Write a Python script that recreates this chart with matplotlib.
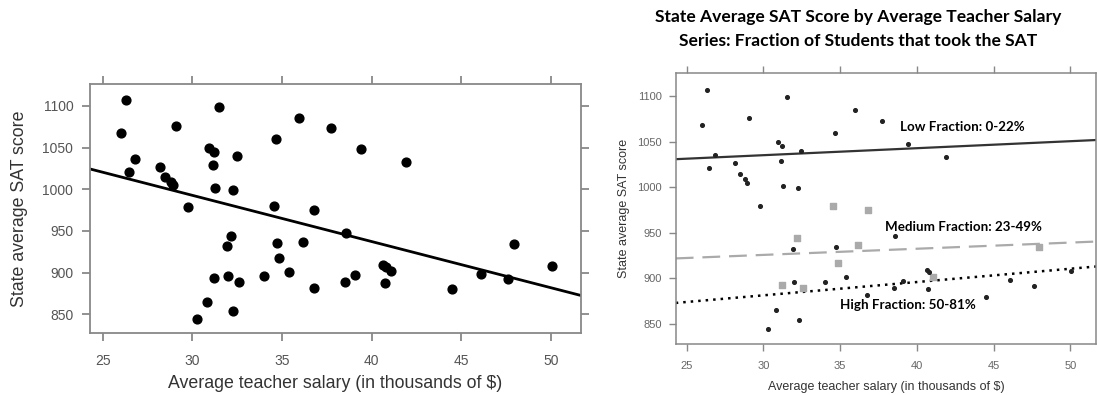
import matplotlib.pyplot as plt
import numpy as np

# SAT data by state: average teacher salary (k$), average SAT, % taking SAT
salary = [31.144, 47.951, 32.175, 28.934, 41.078, 34.571, 50.045, 39.076, 32.588, 32.291,
          38.518, 29.783, 39.431, 36.785, 31.511, 34.652, 32.257, 26.461, 31.972, 40.661,
          40.795, 41.895, 35.948, 26.818, 31.189, 28.785, 30.922, 34.836, 34.720, 46.087,
          28.493, 47.612, 30.793, 26.327, 36.802, 28.172, 38.555, 44.510, 40.729, 30.279,
          25.994, 32.477, 31.223, 29.082, 35.406, 33.987, 36.151, 31.944, 37.746, 31.285]
sat = [1029, 934, 944, 1005, 902, 980, 908, 897, 889, 854,
       889, 979, 1048, 882, 1099, 1060, 999, 1021, 896, 909,
       907, 1033, 1085, 1036, 1045, 1009, 1050, 917, 935, 898,
       1015, 892, 865, 1107, 975, 1027, 947, 880, 888, 844,
       1068, 1040, 893, 1076, 901, 896, 937, 932, 1073, 1001]
frac = [8, 47, 27, 6, 45, 29, 81, 68, 48, 65,
        57, 15, 13, 58, 5, 9, 11, 9, 68, 64,
        80, 11, 9, 4, 9, 21, 9, 30, 70, 70,
        11, 74, 60, 5, 23, 9, 51, 70, 70, 58,
        5, 12, 47, 4, 68, 65, 48, 17, 9, 10]

salary = np.array(salary)
sat = np.array(sat)
frac = np.array(frac)

groups = ["Low Fraction: 0-22%", "Medium Fraction: 23-49%", "High Fraction: 50-81%"]
low = frac <= 22
med = (frac >= 23) & (frac <= 49)
high = frac >= 50

xlim = (24.29, 51.68)
ylim = (827.6, 1126)
xx = np.array(xlim)

fig = plt.figure(figsize=(10.97, 3.95), dpi=100)
plt.rcParams['font.family'] = ['Liberation Sans', 'DejaVu Sans']

spine_col = '#888888'

# left panel
ax1 = fig.add_axes([0.0820, 0.157, 0.4476, 0.630])
ax1.scatter(salary, sat, s=40, color='black', zorder=3)
b, a = np.polyfit(salary, sat, 1)
ax1.plot(xx, a + b * xx, color='black', lw=2)
ax1.set_xlim(xlim)
ax1.set_ylim(ylim)
ax1.set_xticks([25, 30, 35, 40, 45, 50])
ax1.set_yticks([850, 900, 950, 1000, 1050, 1100])
for s in ax1.spines.values():
    s.set_color(spine_col)
    s.set_linewidth(1.3)
ax1.tick_params(direction='out', length=6, width=1.3, color=spine_col,
                labelcolor='#555555', labelsize=10, pad=6,
                top=True, right=True)
ax1.tick_params(axis='x', pad=9)
ax1.set_xlabel("Average teacher salary (in thousands of $)", fontsize=12.8, color='#333333')
ax1.set_ylabel("State average SAT score", fontsize=12.8, color='#333333')
ax1.xaxis.set_label_coords(0.5, -0.17)
ax1.yaxis.set_label_coords(-0.126, 0.5)

# right panel
ax2 = fig.add_axes([0.616, 0.1284, 0.3831, 0.6876])
ax2.scatter(salary[low], sat[low], s=7, color='#222222', zorder=3)
ax2.scatter(salary[med], sat[med], s=14, marker='s', color='#aaaaaa', zorder=3)
ax2.scatter(salary[high], sat[high], s=7, color='#222222', zorder=3)

b, a = np.polyfit(salary[low], sat[low], 1)
ax2.plot(xx, a + b * xx, color='#333333', lw=1.6)
b, a = np.polyfit(salary[med], sat[med], 1)
ax2.plot(xx, a + b * xx, color='#aaaaaa', lw=1.6, dashes=(8, 4))
b, a = np.polyfit(salary[high], sat[high], 1)
ax2.plot(xx, a + b * xx, color='black', lw=1.8, dashes=(1, 2))

ax2.set_xlim(xlim)
ax2.set_ylim(ylim)
ax2.set_xticks([25, 30, 35, 40, 45, 50])
ax2.set_yticks([850, 900, 950, 1000, 1050, 1100])
for s in ax2.spines.values():
    s.set_color(spine_col)
    s.set_linewidth(1.1)
ax2.tick_params(direction='out', length=5, width=1, color=spine_col,
                labelcolor='#666666', labelsize=8, pad=5, top=True)
ax2.tick_params(axis='x', pad=7)
ax2.set_xlabel("Average teacher salary (in thousands of $)", fontsize=9, color='#333333')
ax2.set_ylabel("State average SAT score", fontsize=9, color='#333333')
ax2.xaxis.set_label_coords(0.5, -0.135)
ax2.yaxis.set_label_coords(-0.109, 0.5)

lab_font = dict(family=['Lato', 'DejaVu Sans'], fontweight='bold', fontsize=9.6, va='center')
ax2.text(38.9, 1066.8, groups[0], **lab_font)
ax2.text(37.9, 957, groups[1], **lab_font)
ax2.text(35.0, 870.8, groups[2], **lab_font)

title_font = dict(family=['Lato', 'DejaVu Sans'], fontweight='bold', fontsize=12.6,
                  ha='center', va='center')
fig.text(0.782, 0.957, "State Average SAT Score by Average Teacher Salary", **title_font)
fig.text(0.782, 0.896, "Series: Fraction of Students that took the SAT", **title_font)

fig.savefig('out.png', dpi=100)
